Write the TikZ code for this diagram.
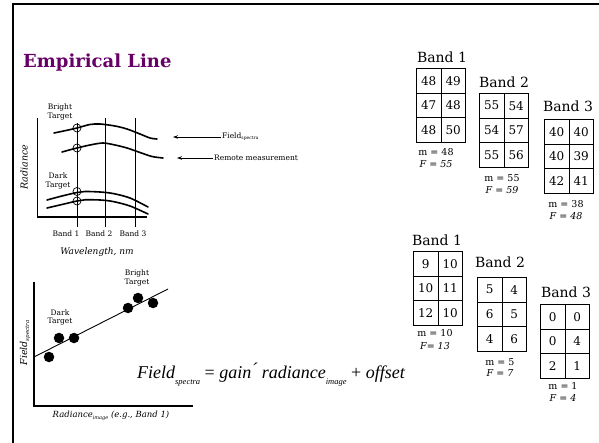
\documentclass[tikz,border=0pt]{standalone}
\usepackage{fontspec}
\setmainfont{DejaVu Serif}
\newfontfamily\timesf{Liberation Serif}
\usetikzlibrary{arrows.meta}
\definecolor{titlepurple}{RGB}{102,0,102}
\tikzset{
  frame/.style={line width=2pt},
  axis/.style={line width=1.4pt},
  curve/.style={line width=1.6pt, line cap=round},
  bandline/.style={line width=0.8pt},
  marker/.style={draw, circle, minimum size=8pt, inner sep=0pt, line width=0.7pt},
  dot/.style={fill, circle, minimum size=10.5pt, inner sep=0pt},
  small/.style={font=\fontsize{7.5}{8.5}\selectfont, align=center, inner sep=0pt},
  cell/.style={draw, line width=0.8pt, minimum width=24.5pt, minimum height=24.6pt, inner sep=0pt, anchor=north west, font=\fontsize{12}{14}\selectfont},
  bandlabel/.style={font=\fontsize{14}{16}\selectfont, inner sep=0pt},
  stat/.style={font=\fontsize{9.5}{10}\selectfont, inner sep=0pt},
  statit/.style={font=\fontsize{9.5}{10}\selectfont\itshape, inner sep=0pt},
  ptr/.style={line width=0.8pt, -{Stealth[length=5pt,width=3.5pt]}},
}
\newcommand\cellgrid[9]{%
  \node[cell] (#1a) at (#2,#3) {#4};
  \node[cell] (#1b) at ({#2+24.5},#3) {#5};
  \node[cell] (#1c) at (#2,{#3+24.6}) {#6};
  \node[cell] (#1d) at ({#2+24.5},{#3+24.6}) {#7};
  \node[cell] (#1e) at (#2,{#3+49.2}) {#8};
  \node[cell] (#1f) at ({#2+24.5},{#3+49.2}) {#9};
}
\begin{document}
\begin{tikzpicture}[x=1pt,y=-1pt]
\useasboundingbox (0,0) rectangle (599,443);
% frame
\draw[frame] (13,443) -- (13,4) -- (599,4);
% title
\node[anchor=west, inner sep=0pt, text=titlepurple, font=\fontsize{18}{20}\selectfont\bfseries] (title) at (23,63) {Empirical Line};

% ---- radiance plot
\draw[axis] (37.7,118) -- (37.7,217) -- (147,217);
\draw[bandline] (77,123) -- (77,227);
\draw[bandline] (105,118) -- (105,227);
\draw[bandline] (135,118) -- (135,227);
\draw[curve] plot[smooth] coordinates {(54,133) (66,130.5) (77,128) (90,124.5) (100,124) (115,126) (127,129) (140,134) (150,138) (157,139)};
\draw[curve] plot[smooth] coordinates {(62,152) (70,149.8) (77,148) (90,145) (103,143) (115,145) (127,148) (140,152.5) (152,156.5) (163,158)};
\draw[curve] plot[smooth] coordinates {(47,200) (62,196) (77,192.5) (85,191.5) (100,192) (113,193.5) (130,198) (148,207)};
\draw[curve] plot[smooth] coordinates {(47,208) (62,204.5) (77,201) (85,199.8) (100,200) (113,201.5) (130,206) (148,214)};
\node[marker] (c1) at (77,128) {};
\node[marker] (c2) at (77,148) {};
\node[marker] (c3) at (77,191.5) {};
\node[marker] (c4) at (77,201) {};
\node[small] (bt1) at (60,112) {Bright\\Target};
\node[small] (dt1) at (58,181) {Dark\\Target};
\node[rotate=90, inner sep=0pt, font=\fontsize{9.5}{11}\selectfont\itshape] (rad) at (24,167) {Radiance};
\node[small] (b1) at (66,234) {Band 1};
\node[small] (b2) at (99,234) {Band 2};
\node[small] (b3) at (133,234) {Band 3};
\node[inner sep=0pt, font=\fontsize{9}{10}\selectfont\itshape] (wl) at (97,252) {Wavelength, nm};
\node[anchor=west, inner sep=1pt, font=\fontsize{7.5}{8.5}\selectfont] (fs) at (221,137) {Field\lower1pt\hbox{\fontsize{4.5}{5}\selectfont spectra}};
\coordinate (fsend) at (173,137);
\draw[ptr] (fs.west) -- (fsend);
\node[anchor=west, inner sep=1pt, font=\fontsize{7.5}{8.5}\selectfont] (rm) at (213,158) {Remote measurement};
\coordinate (rmend) at (177,158);
\draw[ptr] (rm.west) -- (rmend);

% ---- scatter plot
\draw[axis] (34,282) -- (34,406) -- (193,406);
\coordinate (l0) at (34,357);
\coordinate (l1) at (168,289);
\draw[line width=0.9pt] (l0) -- (l1);
\node[dot] (d1) at (49,357) {};
\node[dot] (d2) at (59,338) {};
\node[dot] (d3) at (74,338) {};
\node[dot] (d4) at (128,308) {};
\node[dot] (d5) at (138,298) {};
\node[dot] (d6) at (153,303) {};
\node[small] (dt2) at (60,317.5) {Dark\\Target};
\node[small] (bt2) at (137,278) {Bright\\Target};
\node[rotate=90, inner sep=0pt, font=\fontsize{9.5}{11}\selectfont\itshape] (fsy) at (25,343) {Field\lower2pt\hbox{\fontsize{5.5}{6}\selectfont spectra}};
\node[inner sep=0pt, font=\fontsize{8.5}{10}\selectfont\itshape] (rx) at (111,416) {Radiance\lower1.5pt\hbox{\fontsize{5}{6}\selectfont image} (e.g., Band 1)};
\node[anchor=base west, inner sep=0pt, font=\fontsize{18}{20}\timesf\itshape] (eq) at (137,378) {Field\lower6pt\hbox{\fontsize{8.5}{10}\selectfont spectra} {\upshape =} gain\raisebox{3pt}{´} radiance\lower6pt\hbox{\fontsize{8.5}{10}\selectfont image} {\upshape +} offset};

% ---- grids, upper
\node[bandlabel] (lA) at (442,57) {Band 1};
\cellgrid{A}{416}{68}{48}{49}{47}{48}{48}{50}
\node[stat] (mA) at (436,152) {m = 48};
\node[statit] (fA) at (436,164) {F = 55};
\node[bandlabel] (lB) at (504,82) {Band 2};
\cellgrid{B}{479}{93}{55}{54}{54}{57}{55}{56}
\node[stat] (mB) at (502,178) {m = 55};
\node[statit] (fB) at (502,190) {F = 59};
\node[bandlabel] (lC) at (568,106) {Band 3};
\cellgrid{C}{544}{119}{40}{40}{40}{39}{42}{41}
\node[stat] (mC) at (566,204) {m = 38};
\node[statit] (fC) at (566,216) {F = 48};

% ---- grids, lower
\node[bandlabel] (lD) at (437,240) {Band 1};
\cellgrid{D}{413}{251}{9}{10}{10}{11}{12}{10}
\node[stat] (mD) at (435,333) {m = 10};
\node[statit] (fD) at (435,346) {F= 13};
\node[bandlabel] (lE) at (500,262) {Band 2};
\cellgrid{E}{477}{277}{5}{4}{6}{5}{4}{6}
\node[stat] (mE) at (500,362) {m = 5};
\node[statit] (fE) at (500,373) {F = 7};
\node[bandlabel] (lF) at (566,292) {Band 3};
\cellgrid{F}{540}{304}{0}{0}{0}{4}{2}{1}
\node[stat] (mF) at (563,386) {m = 1};
\node[statit] (fF) at (563,398) {F = 4};
\end{tikzpicture}
\end{document}
